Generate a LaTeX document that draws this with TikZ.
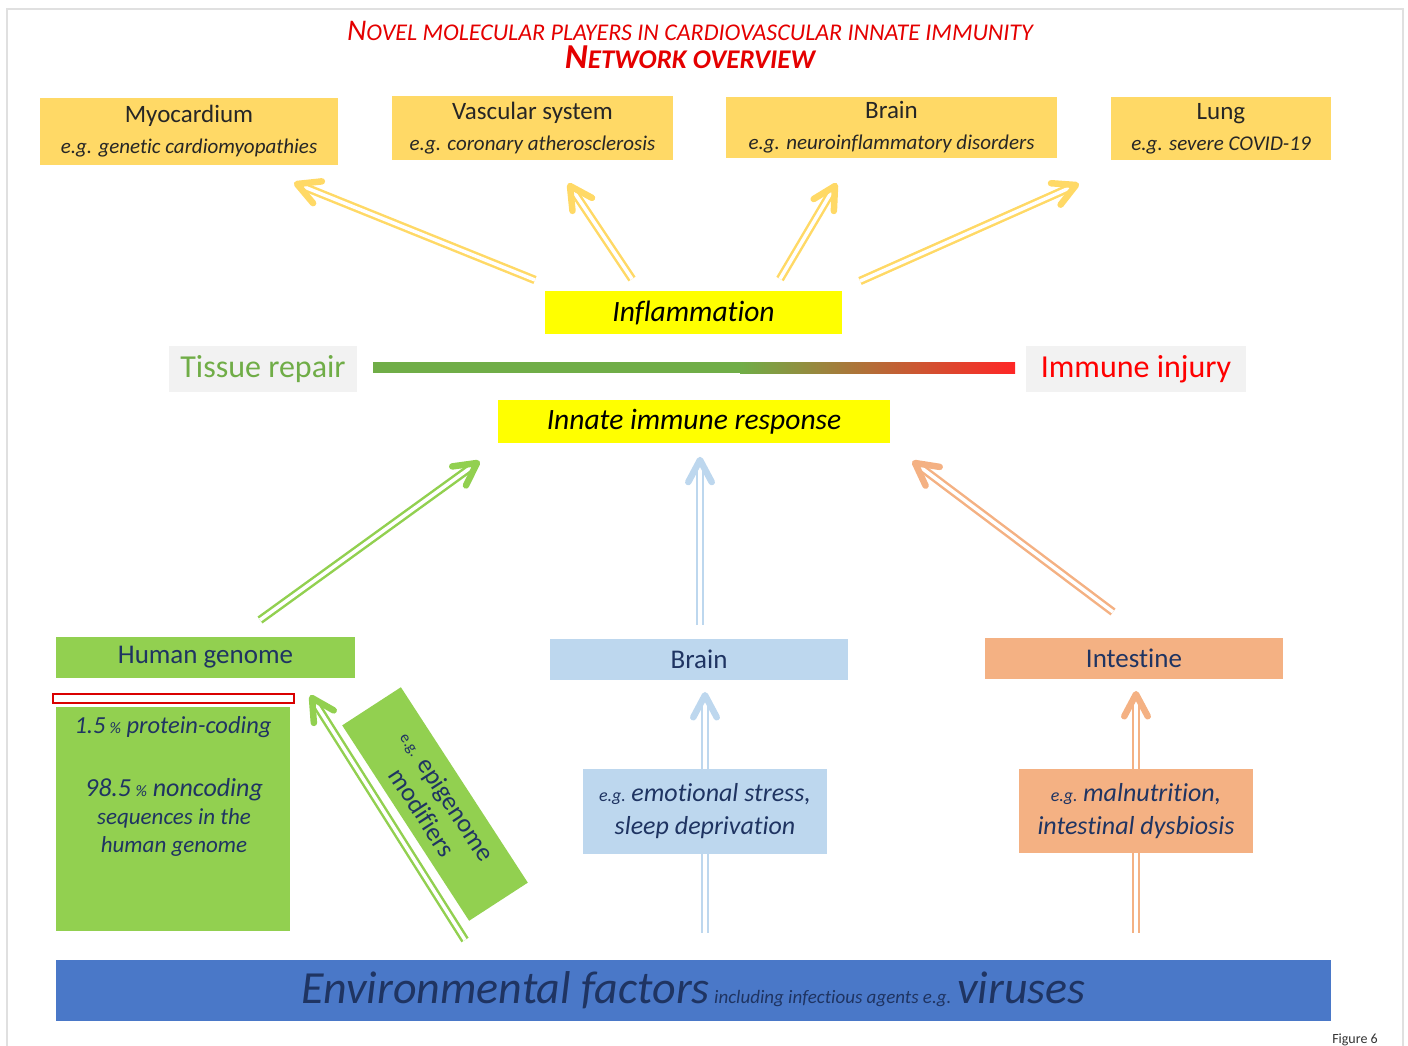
\documentclass[tikz,border=0pt]{standalone}
\usepackage{fontspec}
\setmainfont{Carlito}[Ligatures=NoCommon]
\usetikzlibrary{calc}
\pgfdeclarelayer{bg}
\pgfsetlayers{bg,main}
\definecolor{gold}{RGB}{255,217,102}
\definecolor{brightyellow}{RGB}{255,255,0}
\definecolor{paleGray}{RGB}{242,242,242}
\definecolor{repairGreen}{RGB}{112,173,71}
\definecolor{barRed}{RGB}{255,38,38}
\definecolor{genomeGreen}{RGB}{146,208,80}
\definecolor{paleBlue}{RGB}{189,215,238}
\definecolor{paleOrange}{RGB}{244,177,131}
\definecolor{envBlue}{RGB}{74,120,200}
\definecolor{navy}{RGB}{31,52,98}
\definecolor{titleRed}{RGB}{228,0,0}
\newcommand\fsz[2]{\fontsize{#1}{#2}\selectfont}
\newcommand\ahead[3]{\draw[#1, line width=6.5pt, line cap=round, line join=round]
	($(#3)!25pt!28:(#2)$) -- (#3) -- ($(#3)!25pt!-28:(#2)$);}

\begin{document}
\begin{tikzpicture}[x=1pt,y=-1pt,
		organbox/.style={fill=gold, text=black!85, inner sep=0pt, align=center, font=\fsz{25}{31}},
		yellowbox/.style={fill=brightyellow, inner sep=0pt, font=\fsz{29.5}{33}\itshape},
		greybox/.style={fill=paleGray, inner sep=0pt, font=\fsz{32}{36}},
		sitebox/.style={fill=#1, text=navy, inner sep=0pt, align=center, font=\fsz{27}{30}},
		shaft/.style={draw=#1, double=white, double distance=3.5pt, line width=2.5pt, shorten >=6pt}]
	\useasboundingbox (0,0) rectangle (1408,1046);
	\draw[black!12, line width=1.5pt] (7,9) rectangle (1403,1070);

	\node[text=titleRed, font=\fsz{24}{32}\itshape] (title) at (690,31)
		{{\fsz{30}{32}N}OVEL MOLECULAR PLAYERS IN CARDIOVASCULAR INNATE IMMUNITY};
	\node[text=titleRed, font=\fsz{27}{34}\bfseries\itshape] (subtitle) at (690,57)
		{{\fsz{35}{38}N}ETWORK OVERVIEW};

	\node[organbox, minimum width=298pt, minimum height=67pt] (myo) at (189,131.5)
		{Myocardium\\\fsz{21}{31}\itshape e.g. genetic cardiomyopathies};
	\node[organbox, minimum width=281pt, minimum height=64pt] (vasc) at (532.5,128)
		{Vascular system\\\fsz{21}{30}\itshape e.g. coronary atherosclerosis};
	\node[organbox, minimum width=331pt, minimum height=61pt] (brainA) at (891.5,127.5)
		{Brain\\\fsz{21}{30}\itshape e.g. neuroinflammatory disorders};
	\node[organbox, minimum width=220pt, minimum height=63pt] (lung) at (1221,128.5)
		{Lung\\\fsz{21}{30}\itshape e.g. severe COVID-19};

	\node[yellowbox, minimum width=297pt, minimum height=43pt] (infl) at (693.5,312.5) {Inflammation};
	\node[greybox, text=repairGreen, minimum width=188pt, minimum height=46pt] (repair) at (263,369) {Tissue repair};
	\node[greybox, text=red, minimum width=220pt, minimum height=46pt] (injury) at (1136,369) {Immune injury};
	\fill[repairGreen] (373,362) rectangle (741,373);
	\shade[left color=repairGreen, right color=barRed] (740,362) rectangle (1015,373);
	\node[yellowbox, minimum width=392pt, minimum height=43pt] (innate) at (694,421.5) {Innate immune response};

	\node[sitebox=genomeGreen, minimum width=299pt, minimum height=41pt] (genome) at (205.5,657.5) {Human genome};
	\draw[red!85!black, fill=white, line width=1.2pt] (53,694) rectangle (294,703);
	\node[fill=genomeGreen, minimum width=234pt, minimum height=224pt, inner sep=0pt] (noncod) at (173,819) {};
	\node[text=navy, font=\fsz{24.5}{28}\itshape] (coding) at (173,727)
		{1.5\,{\fsz{16}{16}\%} protein-coding};
	\node[text=navy, align=center, font=\fsz{23}{28}\itshape] (seqs) at (174,817)
		{{\fsz{26}{28}98.5\,{\fsz{16}{16}\%} noncoding}\\sequences in the\\human genome};
	\node[fill=genomeGreen, text=navy, minimum width=233pt, minimum height=70pt, inner sep=0pt,
		rotate=-57, align=center, font=\fsz{26}{30}] (epi) at (435,804)
		{{\fsz{16}{16}e.g.} epigenome\\modifiers};

	\node[sitebox=paleBlue, minimum width=298pt, minimum height=41pt] (brainB) at (699,659.5) {Brain};
	\node[sitebox=paleOrange, minimum width=298pt, minimum height=41pt] (gut) at (1134,658.5) {Intestine};
	\node[sitebox=paleBlue, minimum width=244pt, minimum height=85pt, font=\fsz{26}{33}\itshape] (stress) at (705,811.5)
		{{\fsz{18}{18}e.g. }emotional stress,\\sleep deprivation};
	\node[sitebox=paleOrange, minimum width=234pt, minimum height=84pt, font=\fsz{26}{33}\itshape] (diet) at (1136,811)
		{{\fsz{18}{18}e.g. }malnutrition,\\intestinal dysbiosis};

	\node[fill=envBlue, text=navy, minimum width=1275pt, minimum height=61pt, inner sep=0pt, font=\fsz{46}{50}\itshape] (env) at (693.5,990.5)
		{Environmental factors{\fsz{19}{19} including infectious agents e.g. }viruses};
	\node[text=black!80, anchor=north, font=\fsz{14}{16}] (fig) at (1355,1030) {Figure 6};

	\coordinate (t1) at (535,280); \coordinate (h1) at (297,184);
	\coordinate (t2) at (632,279); \coordinate (h2) at (570,186);
	\coordinate (t3) at (780,279); \coordinate (h3) at (835,186);
	\coordinate (t4) at (860,281); \coordinate (h4) at (1076,185);
	\coordinate (tg) at (260,620); \coordinate (hg) at (477,463);
	\coordinate (tb) at (700,625); \coordinate (hb) at (700,460);
	\coordinate (to) at (1113,612); \coordinate (ho) at (915,463);
	\coordinate (te) at (465,940); \coordinate (he) at (312,698);
	\coordinate (ts) at ($(env.north -| stress.center)+(0,-27)$); \coordinate (hs) at ($(brainB.south -| stress.center)+(0,15)$);
	\coordinate (td) at ($(env.north -| diet.center)+(0,-27)$); \coordinate (hd) at ($(gut.south -| diet.center)+(0,15)$);

	\begin{pgfonlayer}{bg}
		\foreach \t/\h/\c in {t1/h1/gold, t2/h2/gold, t3/h3/gold, t4/h4/gold,
			tg/hg/genomeGreen, tb/hb/paleBlue, to/ho/paleOrange, te/he/genomeGreen,
			ts/hs/paleBlue, td/hd/paleOrange}
		{
			\draw[shaft=\c] (\t) -- (\h);
			\ahead{\c}{\t}{\h}
		}
	\end{pgfonlayer}
\end{tikzpicture}
\end{document}
